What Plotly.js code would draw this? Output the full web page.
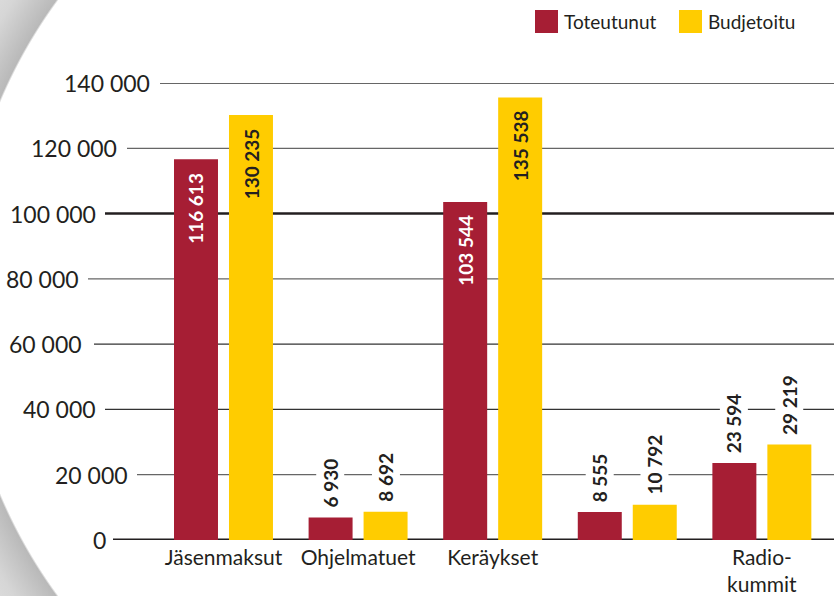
<!DOCTYPE html>
<html>
<head>
<meta charset="utf-8">
<script src="https://cdn.plot.ly/plotly-3.0.1.min.js"></script>
<style>
  html, body { margin: 0; padding: 0; background: #fff; }
  #wrap {
    width: 834px; height: 596px; position: relative; overflow: hidden;
    background: radial-gradient(circle 504px at 464px 298px, #ffffff 503px, #b9b9b9 505px, #d6d6d6 540px, #f1f1f1 620px);
  }
  #chart { width: 834px; height: 596px; }
</style>
</head>
<body>
<div id="wrap"><div id="chart"></div></div>
<script>
// ---- data ----
const categories = ["Jäsenmaksut", "Ohjelmatuet", "Keräykset", "", "Radio-<br>kummit"];
const toteutunut = [116613, 6930, 103544, 8555, 23594];
const budjetoitu = [130235, 8692, 135538, 10792, 29219];
const seriesNames = ["Toteutunut", "Budjetoitu"];
const yTicks = [0, 20000, 40000, 60000, 80000, 100000, 120000, 140000];
const yTickLabels = ["0", "20 000", "40 000", "60 000", "80 000", "100 000", "120 000", "140 000"];

// ---- styling / layout ----
const W = 834, H = 596;
const RED = "#a61e34", YEL = "#ffcc00", DARK = "#231f20";
const COLORS = [RED, YEL];
const FONT = "Lato, 'Open Sans', sans-serif";
const xRange = [-1.6605, 4.536];
const bargap = 0.183, bargroupgap = 0.2;
// label right edges (px) and gridline starts (px) following the arc
const labelRight = [108, 130, 98, 84, 81, 98, 119, 152];
const gridStart  = [113, 137, 105, 94, 88, 105, 127, 160];
const gridWidth  = [3, 1.2, 1.3, 1.3, 1.2, 2.6, 1.2, 1.3];
const gridColor  = ["#231f20", "#666", "#333", "#333", "#666", "#231f20", "#666", "#333"];
// custom legend geometry (px)
const legendSquareLeft = [535, 679];
const legendTop = 10, legendSize = 23;

const idx = categories.map((_, i) => i);
function fmt(v) { return String(v).replace(/\B(?=(\d{3})+(?!\d))/g, " "); }

const traces = [
  { type: "bar", name: seriesNames[0], x: idx, y: toteutunut, marker: { color: RED }, hoverinfo: "none" },
  { type: "bar", name: seriesNames[1], x: idx, y: budjetoitu, marker: { color: YEL }, hoverinfo: "none" }
];

const pxPerUnit = W / (xRange[1] - xRange[0]);
const slotShift = pxPerUnit * (1 - bargap) / 4;

const annotations = [];
const shapes = [];
yTicks.forEach((t, i) => {
  annotations.push({
    xref: "paper", yref: "y", x: labelRight[i] / W, y: t, xanchor: "right", yanchor: "middle",
    text: yTickLabels[i], showarrow: false, font: { family: FONT, size: 23, color: DARK }
  });
  shapes.push({
    type: "line", xref: "paper", yref: "y", x0: gridStart[i] / W, x1: 1, y0: t, y1: t,
    line: { color: gridColor[i], width: gridWidth[i] }, layer: "below"
  });
});

[toteutunut, budjetoitu].forEach((vals, s) => {
  vals.forEach((v, i) => {
    const inside = v > 50000;
    annotations.push({
      xref: "x", yref: "y", x: i, y: v, xshift: (s === 0 ? -1 : 1) * slotShift,
      yshift: inside ? -10 : 7,
      xanchor: "center", yanchor: inside ? "top" : "bottom",
      text: "<b>" + fmt(v) + "</b>", textangle: -90, showarrow: false,
      bgcolor: inside ? "rgba(0,0,0,0)" : "#ffffff", borderpad: 2,
      font: { family: FONT, size: 19, color: inside ? (s === 0 ? "#ffffff" : DARK) : DARK }
    });
  });
});

// legend drawn with paper-referenced shapes + annotations
const plotTop = 83, plotH = H - 83 - 56;
function pyToPaper(py) { return 1 + (plotTop - py) / plotH; }
seriesNames.forEach((n, s) => {
  shapes.push({
    type: "rect", xref: "paper", yref: "paper",
    x0: legendSquareLeft[s] / W, x1: (legendSquareLeft[s] + legendSize) / W,
    y0: pyToPaper(legendTop + legendSize), y1: pyToPaper(legendTop),
    fillcolor: COLORS[s], line: { width: 0 }
  });
  annotations.push({
    xref: "paper", yref: "paper", x: (legendSquareLeft[s] + legendSize + 4) / W,
    y: pyToPaper(legendTop + legendSize / 2), xanchor: "left", yanchor: "middle",
    text: n, showarrow: false, font: { family: FONT, size: 19, color: DARK }
  });
});

const layout = {
  width: W, height: H,
  margin: { l: 0, r: 0, t: 83, b: 56 },
  paper_bgcolor: "rgba(0,0,0,0)", plot_bgcolor: "rgba(0,0,0,0)",
  barmode: "group", bargap: bargap, bargroupgap: bargroupgap,
  font: { family: FONT, color: DARK },
  xaxis: {
    range: xRange, tickmode: "array", tickvals: idx, ticktext: categories,
    showgrid: false, zeroline: false, showline: false, ticks: "",
    ticklabelstandoff: 3,
    tickfont: { family: FONT, size: 21, color: DARK }, fixedrange: true
  },
  yaxis: {
    range: [0, 140000], showgrid: false, zeroline: false, showline: false,
    showticklabels: false, ticks: "", fixedrange: true
  },
  showlegend: false,
  shapes: shapes,
  annotations: annotations
};

Plotly.newPlot("chart", traces, layout, { displayModeBar: false, staticPlot: true });
</script>
</body>
</html>
